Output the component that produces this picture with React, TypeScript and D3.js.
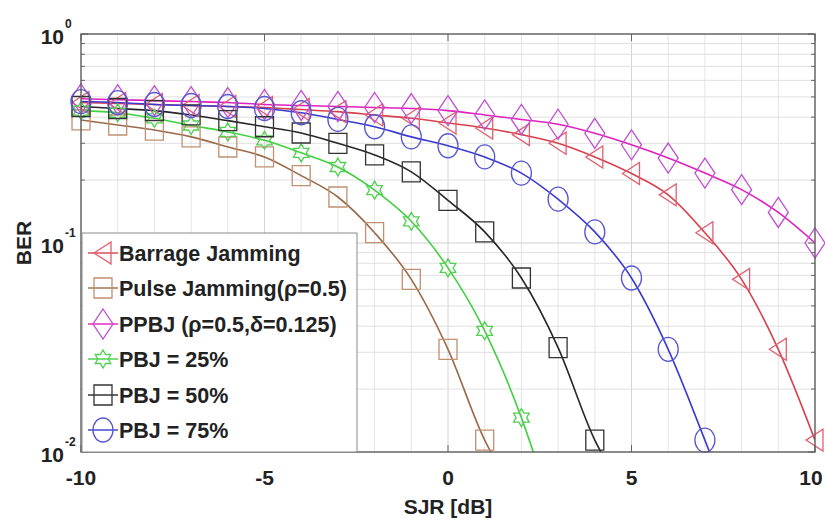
import React from "react";
import * as d3 from "d3";

const sjrValues = [-10, -9, -8, -7, -6, -5, -4, -3, -2, -1, 0, 1, 2, 3, 4, 5, 6, 7, 8, 9, 10];
const xTicks = [-10, -5, 0, 5, 10];
const yDecades = [1, 0.1, 0.01];
const yTickExp = ["0", "-1", "-2"];

const barrage = [0.47, 0.465, 0.46, 0.455, 0.45, 0.445, 0.435, 0.425, 0.41, 0.395, 0.375, 0.355, 0.33, 0.3, 0.258, 0.215, 0.17, 0.112, 0.067, 0.031, 0.0114];
const pulse = [0.388, 0.367, 0.347, 0.322, 0.288, 0.258, 0.21, 0.166, 0.112, 0.067, 0.031, 0.0114, 0.006];
const ppbj = [0.49, 0.485, 0.48, 0.475, 0.47, 0.46, 0.455, 0.45, 0.445, 0.44, 0.43, 0.41, 0.39, 0.37, 0.335, 0.295, 0.255, 0.216, 0.18, 0.14, 0.1];
const pbj25 = [0.43, 0.42, 0.395, 0.365, 0.34, 0.31, 0.27, 0.231, 0.179, 0.127, 0.076, 0.038, 0.0146, 0.0042];
const pbj50 = [0.45, 0.44, 0.43, 0.41, 0.385, 0.36, 0.336, 0.3, 0.264, 0.219, 0.16, 0.113, 0.068, 0.0316, 0.0114, 0.006];
const pbj75 = [0.475, 0.47, 0.46, 0.455, 0.45, 0.44, 0.42, 0.39, 0.36, 0.322, 0.292, 0.258, 0.216, 0.162, 0.113, 0.068, 0.031, 0.0114, 0.004];

const seriesNames = [
  "Barrage Jamming",
  "Pulse Jamming(\u03c1=0.5)",
  "PPBJ (\u03c1=0.5,\u03b4=0.125)",
  "PBJ = 25%",
  "PBJ = 50%",
  "PBJ = 75%",
];
const seriesData = [barrage, pulse, ppbj, pbj25, pbj50, pbj75];
const seriesLine = ["#d8404c", "#9a6a48", "#e020c0", "#40d040", "#262626", "#3a3ad0"];
const seriesMarkerColor = ["#e06070", "#c09070", "#c050d0", "#50d050", "#333333", "#5858d0"];
const seriesMarker = ["triangleLeft", "square", "diamond", "hexagram", "square", "circle"];

const W = 825;
const H = 521;
const M = { left: 81, right: 815, top: 34, bottom: 452 };

function markerPath(type: string): string | null {
  switch (type) {
    case "triangleLeft":
      return "M-9,0 L8,-11 L8,11 Z";
    case "square":
      return "M-9,-10 L9,-10 L9,10 L-9,10 Z";
    case "diamond":
      return "M0,-15 L10,0 L0,15 L-10,0 Z";
    case "hexagram": {
      const pts: string[] = [];
      for (let i = 0; i < 12; i++) {
        const a = (Math.PI / 6) * i - Math.PI / 2;
        const r = i % 2 === 0 ? 9 : 5.2;
        pts.push(`${(r * Math.cos(a)).toFixed(2)},${(r * Math.sin(a)).toFixed(2)}`);
      }
      return "M" + pts.join(" L") + " Z";
    }
    default:
      return null;
  }
}

function Marker({ type, color, x, y }: { type: string; color: string; x: number; y: number }) {
  if (type === "circle") {
    return <ellipse cx={x} cy={y} rx={10} ry={12} fill="none" stroke={color} strokeWidth={1.3} />;
  }
  return <path d={markerPath(type) || ""} transform={`translate(${x},${y})`} fill="none" stroke={color} strokeWidth={1.3} />;
}

export default function App() {
  const x = d3.scaleLinear().domain([-10, 10]).range([M.left, M.right]);
  const y = d3.scaleLog().domain([0.01, 1]).range([M.bottom, M.top]);

  const minorY: number[] = [];
  [0.01, 0.1].forEach((d) => {
    for (let k = 2; k <= 9; k++) minorY.push(d * k);
  });

  const line = d3
    .line<[number, number]>()
    .x((d) => x(d[0]))
    .y((d) => y(d[1]))
    .curve(d3.curveMonotoneX);

  const font = "'Liberation Sans', Arial, Helvetica, sans-serif";
  const legendRowY = [253, 288, 324, 359, 395, 430];

  return (
    <svg width={W} height={H} style={{ position: "absolute", left: 0, top: 0, background: "#fff" }} fontFamily={font}>
      <defs>
        <clipPath id="plotClip">
          <rect x={M.left} y={M.top} width={M.right - M.left} height={M.bottom - M.top} />
        </clipPath>
      </defs>
      <rect x={0} y={0} width={W} height={H} fill="#fff" />
      <g>
        {sjrValues.map((v) => (
          <line key={"vx" + v} x1={x(v)} x2={x(v)} y1={M.top} y2={M.bottom}
            stroke={v % 5 === 0 ? "#d4d4d4" : "#e8e4e6"} strokeWidth={1} />
        ))}
        {minorY.map((v, i) => (
          <line key={"my" + i} x1={M.left} x2={M.right} y1={y(v)} y2={y(v)} stroke="#e0e0e0" strokeWidth={1} />
        ))}
        {yDecades.map((v, i) => (
          <line key={"My" + i} x1={M.left} x2={M.right} y1={y(v)} y2={y(v)} stroke="#cfcfcf" strokeWidth={1} />
        ))}
      </g>
      <g stroke="#666" strokeWidth={1}>
        {xTicks.map((v) => (
          <g key={"xt" + v}>
            <line x1={x(v)} x2={x(v)} y1={M.bottom} y2={M.bottom - 7} />
            <line x1={x(v)} x2={x(v)} y1={M.top} y2={M.top + 7} />
          </g>
        ))}
        {minorY.map((v, i) => (
          <g key={"ymt" + i}>
            <line x1={M.left} x2={M.left + 4} y1={y(v)} y2={y(v)} />
            <line x1={M.right} x2={M.right - 4} y1={y(v)} y2={y(v)} />
          </g>
        ))}
        {yDecades.map((v, i) => (
          <g key={"yMt" + i}>
            <line x1={M.left} x2={M.left + 7} y1={y(v)} y2={y(v)} />
            <line x1={M.right} x2={M.right - 7} y1={y(v)} y2={y(v)} />
          </g>
        ))}
      </g>
      <g clipPath="url(#plotClip)">
        {seriesData.map((vals, si) => (
          <path key={"l" + si}
            d={line(vals.map((v, i) => [sjrValues[i], v] as [number, number])) || ""}
            fill="none" stroke={seriesLine[si]} strokeWidth={1.6} />
        ))}
      </g>
      <g>
        {seriesData.map((vals, si) =>
          vals.map((v, i) =>
            v >= 0.0099 ? (
              <Marker key={"m" + si + "_" + i} type={seriesMarker[si]} color={seriesMarkerColor[si]} x={x(sjrValues[i])} y={y(v)} />
            ) : null
          )
        )}
      </g>
      <rect x={M.left} y={M.top} width={M.right - M.left} height={M.bottom - M.top} fill="none" stroke="#5a5a5a" strokeWidth={1.3} />
      <g>
        <rect x={M.left + 1} y={233} width={275} height={M.bottom - 233} fill="#fff" stroke="#8a8a8a" strokeWidth={1} />
        {seriesNames.map((name, i) => (
          <g key={"lg" + i}>
            <line x1={88} x2={118} y1={legendRowY[i]} y2={legendRowY[i]} stroke={seriesLine[i]} strokeWidth={1.4} />
            <Marker type={seriesMarker[i]} color={seriesMarkerColor[i]} x={103} y={legendRowY[i]} />
            <text x={119} y={legendRowY[i] + 8} fontSize={21.5} fontWeight="bold" fill="#222">{name}</text>
          </g>
        ))}
      </g>
      {xTicks.map((v) => (
        <text key={"xl" + v} x={Math.min(x(v), W - 14)} y={485} textAnchor="middle" fontSize={21} fontWeight="bold" fill="#222">
          {v}
        </text>
      ))}
      {yDecades.map((v, i) => (
        <g key={"yl" + i}>
          <text x={64} y={y(v) + 10} textAnchor="end" fontSize={21} fontWeight="bold" fill="#222">10</text>
          <text x={65} y={y(v) - 6} fontSize={12} fontWeight="bold" fill="#222">{yTickExp[i]}</text>
        </g>
      ))}
      <text x={x(0)} y={514} textAnchor="middle" fontSize={21} fontWeight="bold" fill="#222">SJR [dB]</text>
      <text transform={`translate(31,${y(0.1)}) rotate(-90)`} textAnchor="middle" fontSize={21} fontWeight="bold" fill="#222">BER</text>
    </svg>
  );
}
